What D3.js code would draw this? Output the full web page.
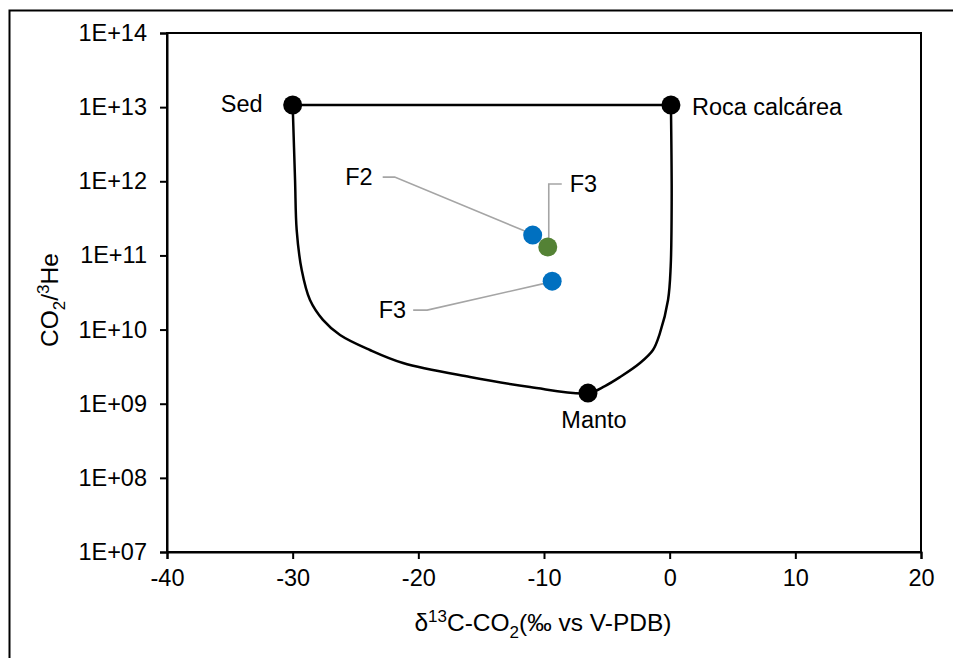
<!DOCTYPE html>
<html><head><meta charset="utf-8">
<script src="https://cdn.jsdelivr.net/npm/d3@7"></script>
<style>
html,body{margin:0;padding:0;background:#fff;}
text{font-family:"Liberation Sans",Arial,sans-serif;fill:#000;}
</style></head>
<body>
<svg id="c" width="953" height="658"></svg>
<script>
// ---- data ----
const xTicks = [-40, -30, -20, -10, 0, 10, 20];
const yTicks = [1e7, 1e8, 1e9, 1e10, 1e11, 1e12, 1e13, 1e14];
const yTickLabels = ["1E+07","1E+08","1E+09","1E+10","1E+11","1E+12","1E+13","1E+14"];
const endMemberNames = ["Sed", "Roca calcárea", "Manto"];
const endMemberX = [-30, 0.1, -6.5];
const endMemberY = [1.07e13, 1.07e13, 1.39e9];
// mixing envelope: from Roca calcárea down to Manto, then up to Sed
const curveX = [0.1, 0.16, 0.08, -0.13, -0.77, -1.33, -2.36, -3.95, -5.15, -6.5,
                -11.11, -15.89, -21.22, -23.85, -26.23, -27.59, -28.62, -29.28, -29.68, -29.81, -30];
const curveY = [1.07e13, 5.6e11, 7e10, 2.5e10, 9e9, 5.3e9, 3.54e9, 2.29e9, 1.73e9, 1.39e9,
                1.68e9, 2.29e9, 3.54e9, 5.3e9, 8.45e9, 1.35e10, 2.5e10, 6.35e10, 2.2e11, 1.04e12, 1.07e13];
const sampleNames = ["F2", "F3", "F3"];
const sampleX = [-10.9, -9.7, -9.35];
const sampleY = [1.88e11, 1.3e11, 4.5e10];
const sampleColors = ["#0070c0", "#548235", "#0070c0"];

// ---- layout ----
const svg = d3.select("#c");
const L = 167, R = 921, T = 33, B = 552;
const x = d3.scaleLinear().domain([-40, 20]).range([L, R]);
const y = d3.scaleLog().domain([1e7, 1e14]).range([B, T]);
const FS = 23.5;

// outer chart border (extends beyond viewport)
svg.append("rect").attr("x", 9.5).attr("y", 10.5).attr("width", 1000).attr("height", 700)
  .attr("fill", "none").attr("stroke", "#000").attr("stroke-width", 2);

// plot box
svg.append("rect").attr("x", L).attr("y", T).attr("width", R - L).attr("height", B - T)
  .attr("fill", "none").attr("stroke", "#000").attr("stroke-width", 2);

// axes
const yAxis = d3.axisLeft(y).tickValues(yTicks).tickSize(7).tickPadding(13)
  .tickFormat((d, i) => yTickLabels[i]);
const gy = svg.append("g").attr("transform", `translate(${L},0)`).call(yAxis);
const xAxis = d3.axisBottom(x).tickValues(xTicks).tickSize(7).tickPadding(10)
  .tickFormat(d => d3.format("d")(d).replace("−", "-"));
const gx = svg.append("g").attr("transform", `translate(0,${B})`).call(xAxis);
[gx, gy].forEach(g => {
  g.select(".domain").attr("stroke", "#000").attr("stroke-width", 2);
  g.selectAll(".tick line").attr("stroke", "#000").attr("stroke-width", 2);
  g.selectAll(".tick text").style("font-size", FS + "px").attr("fill", "#000")
    .style("font-family", "'Liberation Sans',Arial,sans-serif");
});

// envelope lines
svg.append("line").attr("x1", x(endMemberX[0])).attr("y1", y(endMemberY[0]))
  .attr("x2", x(endMemberX[1])).attr("y2", y(endMemberY[1]))
  .attr("stroke", "#000").attr("stroke-width", 2.5);
const pts = curveX.map((v, i) => [x(v), y(curveY[i])]);
svg.append("path").attr("d", d3.line().curve(d3.curveCatmullRom.alpha(0.5))(pts))
  .attr("fill", "none").attr("stroke", "#000").attr("stroke-width", 2.5);

// end member dots
svg.selectAll("circle.em").data(endMemberX).enter().append("circle")
  .attr("cx", (d) => x(d)).attr("cy", (d, i) => y(endMemberY[i])).attr("r", 9.5).attr("fill", "#000");

// end member labels (offsets in px)
const emOff = [[-30, 7, "end"], [21, 10, "start"], [6, 35, "middle"]];
endMemberNames.forEach((n, i) => {
  svg.append("text").attr("x", x(endMemberX[i]) + emOff[i][0]).attr("y", y(endMemberY[i]) + emOff[i][1])
    .attr("text-anchor", emOff[i][2]).style("font-size", FS + "px").text(n);
});

// leader lines (pixel offsets relative to points)
const leaders = [
  [[-150, -58], [-138, -58], [-3, -2]],
  [[14, -63], [1, -63], [1, 0]],
  [[-139, 29], [-125, 29], [-2, 1]]
];
const labelOff = [[-160, 0, "end"], [22, -60, "start"], [-146, 31, "end"]];
sampleX.forEach((v, i) => {
  const px = x(v), py = y(sampleY[i]);
  svg.append("polyline").attr("points", leaders[i].map(p => [px + p[0], py + p[1]].join(",")).join(" "))
    .attr("fill", "none").attr("stroke", "#a5a5a5").attr("stroke-width", 1.6);
});
sampleX.forEach((v, i) => {
  svg.append("circle").attr("cx", x(v)).attr("cy", y(sampleY[i])).attr("r", 9.5).attr("fill", sampleColors[i]);
});
sampleX.forEach((v, i) => {
  const px = x(v), py = y(sampleY[i]);
  svg.append("text").attr("x", px + labelOff[i][0]).attr("y", py + leaders[i][0][1] + 8)
    .attr("text-anchor", labelOff[i][2]).style("font-size", FS + "px").text(sampleNames[i]);
});

// axis titles
const TS = 24.5;
const xt = svg.append("text").attr("x", (L + R) / 2 - 1).attr("y", 631).attr("text-anchor", "middle")
  .style("font-size", TS + "px");
xt.append("tspan").text("δ");
xt.append("tspan").attr("dy", -9).style("font-size", "17px").text("13");
xt.append("tspan").attr("dy", 9).text("C-CO");
xt.append("tspan").attr("dy", 7).style("font-size", "17px").text("2");
xt.append("tspan").attr("dy", -7).text("(‰ vs V-PDB)");

const yt = svg.append("text").attr("transform", "translate(58,300) rotate(-90)").attr("text-anchor", "middle")
  .style("font-size", TS + "px");
yt.append("tspan").text("CO");
yt.append("tspan").attr("dy", 7).style("font-size", "17px").text("2");
yt.append("tspan").attr("dy", -7).text("/");
yt.append("tspan").attr("dy", -9).style("font-size", "17px").text("3");
yt.append("tspan").attr("dy", 9).text("He");
</script>
</body></html>
